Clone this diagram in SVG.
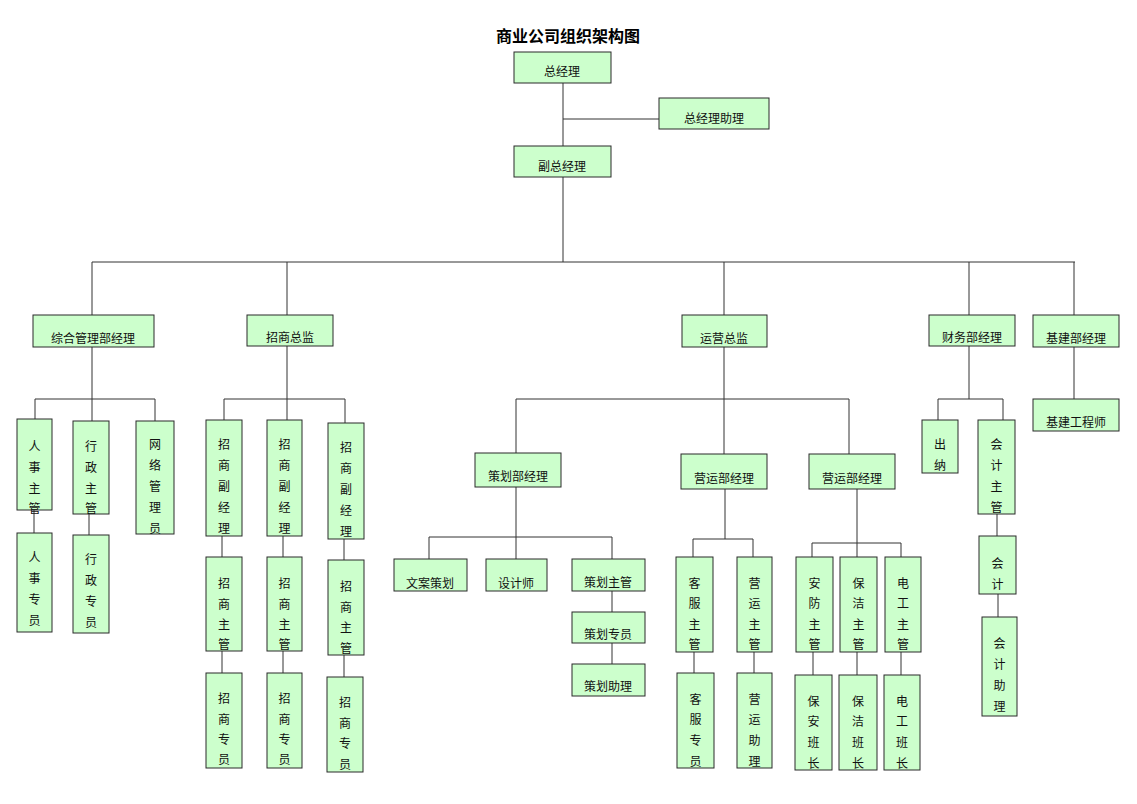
<svg xmlns="http://www.w3.org/2000/svg" width="1137" height="804" viewBox="0 0 1137 804">
<style>
.b{fill:#ccffcc;stroke:#2a2a2a;stroke-width:1}
.s{fill:none;stroke:#111;stroke-width:1.2}
.t{font-family:"Noto Sans CJK SC","Noto Sans",sans-serif;font-size:12px;fill:#111;text-anchor:middle;dominant-baseline:central}
.c{fill:none;stroke:#333;stroke-width:1}
.title{font-family:"Noto Sans CJK SC","Noto Sans",sans-serif;font-size:16px;font-weight:bold;fill:#000;text-anchor:middle;dominant-baseline:central}
</style>
<rect width="1137" height="804" fill="#fff"/>
<text class="title" x="568" y="35">商业公司组织架构图</text>
<g id="connectors">
<path class="c" d="M563,83V146M563,119H659M563,177V262M92,262H1075M92,262V315M287,262V315M724,262V315M969,262V315M1074,262V315"/>
<path class="c" d="M92,347V421M35,399H155M35,399V419M155,399V421M34,510V533M89,514V535"/>
<path class="c" d="M287,346V420M224,399H345M224,399V420M345,399V423M222,536V557M222,651V673M283,536V557M283,651V673M344,539V560M344,655V677"/>
<path class="c" d="M724,347V454M516,399H849M516,399V453M849,399V454M516,487V559M429,537H612M429,537V559M612,537V559M612,591V612M612,643V664"/>
<path class="c" d="M725,489V539M693,539H753M693,539V557M753,539V557M694,652V673M754,652V673"/>
<path class="c" d="M857,489V557M812,543H901M812,543V557M901,543V557M813,652V675M857,652V675M901,652V675"/>
<path class="c" d="M969,346V399M938,399H1003M938,399V420M1003,399V420M997,514V536M998,594V617M1074,347V399"/>
</g>
<g id="n_zjl"><rect class="b" x="514" y="52" width="97" height="31"/><text class="t" x="562" y="70">总经理</text></g>
<g id="n_zjlzl"><rect class="b" x="659" y="98" width="110" height="31"/><text class="t" x="714" y="117">总经理助理</text></g>
<g id="n_fzjl"><rect class="b" x="514" y="146" width="97" height="31"/><text class="t" x="562" y="165">副总经理</text></g>
<g id="n_zhgl"><rect class="b" x="33" y="315" width="121" height="32"/><text class="t" x="93" y="337">综合管理部经理</text></g>
<g id="n_zszj"><rect class="b" x="247" y="315" width="86" height="31"/><text class="t" x="290" y="336">招商总监</text></g>
<g id="n_yyzj"><rect class="b" x="682" y="315" width="85" height="32"/><text class="t" x="724" y="337">运营总监</text></g>
<g id="n_cwb"><rect class="b" x="929" y="315" width="86" height="31"/><text class="t" x="972" y="336">财务部经理</text></g>
<g id="n_jjb"><rect class="b" x="1033" y="315" width="86" height="32"/><text class="t" x="1076" y="337">基建部经理</text></g>
<g id="n_jjgcs"><rect class="b" x="1033" y="399" width="86" height="32"/><text class="t" x="1076" y="421">基建工程师</text></g>
<g id="n_chbjl"><rect class="b" x="475" y="453" width="86" height="34"/><text class="t" x="518" y="475">策划部经理</text></g>
<g id="n_yybjl1"><rect class="b" x="681" y="454" width="86" height="35"/><text class="t" x="724" y="477">营运部经理</text></g>
<g id="n_yybjl2"><rect class="b" x="809" y="454" width="86" height="35"/><text class="t" x="852" y="477">营运部经理</text></g>
<g id="n_wach"><rect class="b" x="394" y="559" width="73" height="32"/><text class="t" x="430" y="582">文案策划</text></g>
<g id="n_sjs"><rect class="b" x="486" y="559" width="61" height="32"/><text class="t" x="516" y="582">设计师</text></g>
<g id="n_chzg"><rect class="b" x="572" y="559" width="73" height="32"/><text class="t" x="608" y="581">策划主管</text></g>
<g id="n_chzy"><rect class="b" x="572" y="612" width="73" height="31"/><text class="t" x="608" y="633">策划专员</text></g>
<g id="n_chzl"><rect class="b" x="572" y="664" width="73" height="32"/><text class="t" x="608" y="685">策划助理</text></g>
<g id="n_rszg"><rect class="b" x="17" y="419" width="35" height="91"/><text class="t" x="34.5"><tspan x="34.5" y="445">人</tspan><tspan x="34.5" y="466">事</tspan><tspan x="34.5" y="487">主</tspan><tspan x="34.5" y="507">管</tspan></text></g>
<g id="n_rszy"><rect class="b" x="17" y="533" width="35" height="99"/><text class="t"><tspan x="34.5" y="556">人</tspan><tspan x="34.5" y="577">事</tspan><tspan x="34.5" y="598">专</tspan><tspan x="34.5" y="619">员</tspan></text></g>
<g id="n_xzzg"><rect class="b" x="73" y="421" width="36" height="93"/><text class="t"><tspan x="91" y="445">行</tspan><tspan x="91" y="466">政</tspan><tspan x="91" y="487">主</tspan><tspan x="91" y="507">管</tspan></text></g>
<g id="n_xzzy"><rect class="b" x="73" y="535" width="36" height="98"/><text class="t"><tspan x="91" y="558">行</tspan><tspan x="91" y="579">政</tspan><tspan x="91" y="600">专</tspan><tspan x="91" y="621">员</tspan></text></g>
<g id="n_wlgly"><rect class="b" x="136" y="421" width="38" height="113"/><text class="t"><tspan x="155" y="443">网</tspan><tspan x="155" y="464">络</tspan><tspan x="155" y="485">管</tspan><tspan x="155" y="506">理</tspan><tspan x="155" y="527">员</tspan></text></g>
<g id="n_zsfjl1"><rect class="b" x="206" y="420" width="36" height="116"/><text class="t"><tspan x="224" y="443">招</tspan><tspan x="224" y="464">商</tspan><tspan x="224" y="485">副</tspan><tspan x="224" y="506">经</tspan><tspan x="224" y="527">理</tspan></text></g>
<g id="n_zsfjl2"><rect class="b" x="267" y="420" width="35" height="116"/><text class="t"><tspan x="284.5" y="443">招</tspan><tspan x="284.5" y="464">商</tspan><tspan x="284.5" y="485">副</tspan><tspan x="284.5" y="506">经</tspan><tspan x="284.5" y="527">理</tspan></text></g>
<g id="n_zsfjl3"><rect class="b" x="328" y="423" width="36" height="116"/><text class="t"><tspan x="346" y="446">招</tspan><tspan x="346" y="467">商</tspan><tspan x="346" y="488">副</tspan><tspan x="346" y="509">经</tspan><tspan x="346" y="530">理</tspan></text></g>
<g id="n_zszg1"><rect class="b" x="206" y="557" width="36" height="94"/><text class="t"><tspan x="224" y="582">招</tspan><tspan x="224" y="603">商</tspan><tspan x="224" y="623">主</tspan><tspan x="224" y="643">管</tspan></text></g>
<g id="n_zszg2"><rect class="b" x="267" y="557" width="35" height="94"/><text class="t"><tspan x="284.5" y="582">招</tspan><tspan x="284.5" y="603">商</tspan><tspan x="284.5" y="623">主</tspan><tspan x="284.5" y="643">管</tspan></text></g>
<g id="n_zszg3"><rect class="b" x="328" y="560" width="36" height="95"/><text class="t"><tspan x="346" y="585">招</tspan><tspan x="346" y="606">商</tspan><tspan x="346" y="626">主</tspan><tspan x="346" y="647">管</tspan></text></g>
<g id="n_zszy1"><rect class="b" x="206" y="673" width="36" height="95"/><text class="t"><tspan x="224" y="697">招</tspan><tspan x="224" y="718">商</tspan><tspan x="224" y="738">专</tspan><tspan x="224" y="758">员</tspan></text></g>
<g id="n_zszy2"><rect class="b" x="267" y="673" width="35" height="95"/><text class="t"><tspan x="284.5" y="697">招</tspan><tspan x="284.5" y="718">商</tspan><tspan x="284.5" y="738">专</tspan><tspan x="284.5" y="758">员</tspan></text></g>
<g id="n_zszy3"><rect class="b" x="327" y="677" width="36" height="95"/><text class="t"><tspan x="345" y="701">招</tspan><tspan x="345" y="722">商</tspan><tspan x="345" y="742">专</tspan><tspan x="345" y="763">员</tspan></text></g>
<g id="n_kfzg"><rect class="b" x="676" y="557" width="37" height="95"/><text class="t"><tspan x="694.5" y="582">客</tspan><tspan x="694.5" y="602">服</tspan><tspan x="694.5" y="623">主</tspan><tspan x="694.5" y="643">管</tspan></text></g>
<g id="n_yyzg"><rect class="b" x="737" y="557" width="35" height="95"/><text class="t"><tspan x="754.5" y="582">营</tspan><tspan x="754.5" y="602">运</tspan><tspan x="754.5" y="623">主</tspan><tspan x="754.5" y="643">管</tspan></text></g>
<g id="n_kfzy"><rect class="b" x="677" y="673" width="37" height="95"/><text class="t"><tspan x="695.5" y="698">客</tspan><tspan x="695.5" y="718">服</tspan><tspan x="695.5" y="739">专</tspan><tspan x="695.5" y="760">员</tspan></text></g>
<g id="n_yyzl"><rect class="b" x="737" y="673" width="35" height="95"/><text class="t"><tspan x="754.5" y="698">营</tspan><tspan x="754.5" y="718">运</tspan><tspan x="754.5" y="739">助</tspan><tspan x="754.5" y="760">理</tspan></text></g>
<g id="n_afzg"><rect class="b" x="796" y="557" width="37" height="95"/><text class="t"><tspan x="814.5" y="582">安</tspan><tspan x="814.5" y="602">防</tspan><tspan x="814.5" y="623">主</tspan><tspan x="814.5" y="643">管</tspan></text></g>
<g id="n_bjzg"><rect class="b" x="840" y="557" width="37" height="95"/><text class="t"><tspan x="858.5" y="582">保</tspan><tspan x="858.5" y="602">洁</tspan><tspan x="858.5" y="623">主</tspan><tspan x="858.5" y="643">管</tspan></text></g>
<g id="n_dgzg"><rect class="b" x="885" y="557" width="36" height="95"/><text class="t"><tspan x="903" y="582">电</tspan><tspan x="903" y="602">工</tspan><tspan x="903" y="623">主</tspan><tspan x="903" y="643">管</tspan></text></g>
<g id="n_babz"><rect class="b" x="795" y="675" width="37" height="95"/><text class="t"><tspan x="813.5" y="700">保</tspan><tspan x="813.5" y="720">安</tspan><tspan x="813.5" y="741">班</tspan><tspan x="813.5" y="762">长</tspan></text></g>
<g id="n_bjbz"><rect class="b" x="839" y="675" width="38" height="95"/><text class="t"><tspan x="858" y="700">保</tspan><tspan x="858" y="720">洁</tspan><tspan x="858" y="741">班</tspan><tspan x="858" y="762">长</tspan></text></g>
<g id="n_dgbz"><rect class="b" x="884" y="675" width="36" height="95"/><text class="t"><tspan x="902" y="700">电</tspan><tspan x="902" y="720">工</tspan><tspan x="902" y="741">班</tspan><tspan x="902" y="762">长</tspan></text></g>
<g id="n_cn"><rect class="b" x="922" y="420" width="36" height="53"/><text class="t"><tspan x="940" y="443">出</tspan><tspan x="940" y="464">纳</tspan></text></g>
<g id="n_kjzg"><rect class="b" x="978" y="420" width="37" height="94"/><text class="t"><tspan x="996.5" y="443">会</tspan><tspan x="996.5" y="464">计</tspan><tspan x="996.5" y="485">主</tspan><tspan x="996.5" y="506">管</tspan></text></g>
<g id="n_kj"><rect class="b" x="979" y="536" width="37" height="58"/><text class="t"><tspan x="997.5" y="562">会</tspan><tspan x="997.5" y="583">计</tspan></text></g>
<g id="n_kjzl"><rect class="b" x="982" y="617" width="35" height="99"/><text class="t"><tspan x="999.5" y="642">会</tspan><tspan x="999.5" y="663">计</tspan><tspan x="999.5" y="684">助</tspan><tspan x="999.5" y="705">理</tspan></text></g>
</svg>
